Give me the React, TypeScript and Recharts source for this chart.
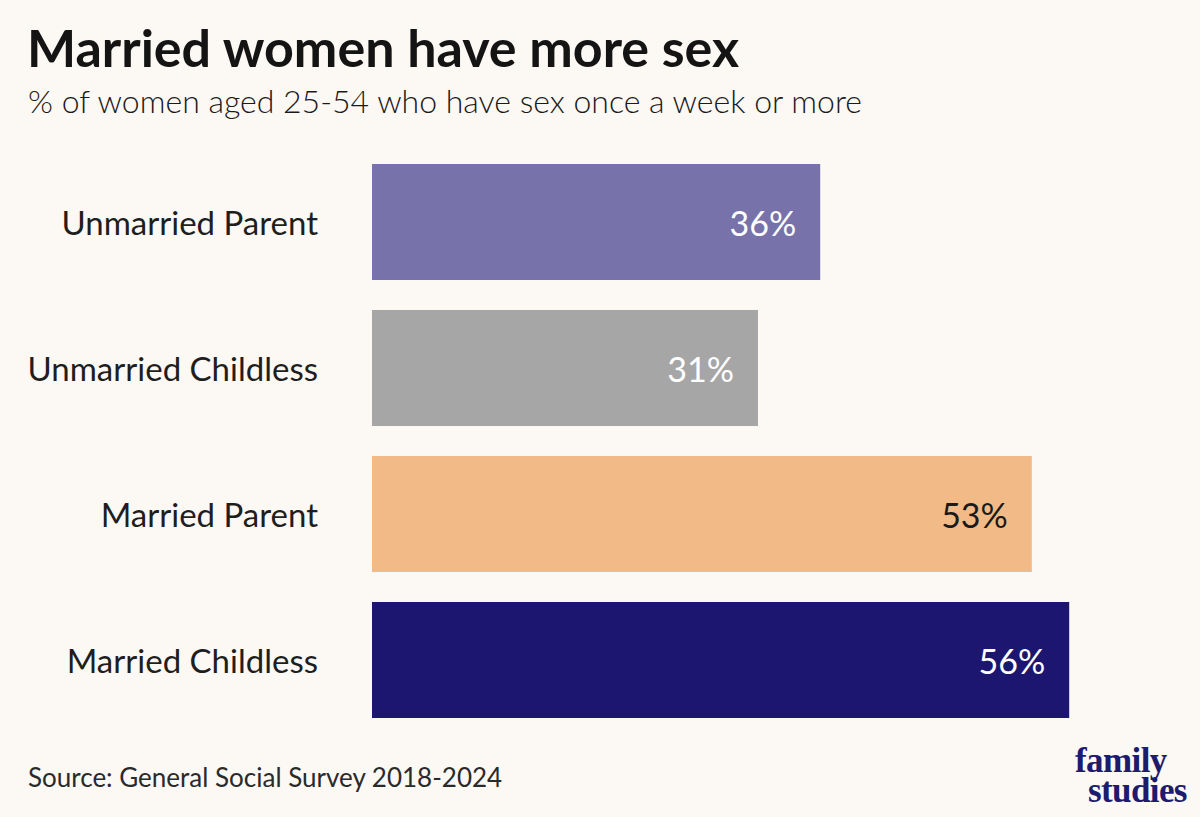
import * as React from 'react';
import { BarChart, Bar, XAxis, YAxis, Cell, LabelList } from 'recharts';

const categories = ['Unmarried Parent', 'Unmarried Childless', 'Married Parent', 'Married Childless'];
const shares = [36, 31, 53, 56];
const barColors = ['#7773AA', '#A6A6A6', '#F2BA86', '#1D1671'];
const labelColors = ['#FFFFFF', '#FFFFFF', '#1A1A1A', '#FFFFFF'];

const BG = '#FCF8F4';
const FONT = 'Lato, "Open Sans", sans-serif';

const data = categories.map((name, i) => ({ name, value: shares[i] }));

const CategoryTick = (props: any) => {
  const { x, y, payload } = props;
  return (
    <text x={x - 46} y={y} textAnchor="end" dominantBaseline="central"
      fontSize={33} fontFamily={FONT} fill="#1E1E1E">
      {payload.value}
    </text>
  );
};

const ValueLabel = (props: any) => {
  const { x, y, width, height, value, index } = props;
  return (
    <text x={x + width - 24} y={y + height / 2} textAnchor="end" dominantBaseline="central"
      fontSize={34} fontFamily={FONT} fill={labelColors[index]}>
      {value}%
    </text>
  );
};

export default function App() {
  return (
    <div style={{ position: 'relative', width: 1200, height: 817, background: BG, overflow: 'hidden', fontFamily: FONT }}>
      <style>{`body{margin:0}`}</style>
      <div style={{ position: 'absolute', left: 27, top: 16, fontSize: 52, fontWeight: 700, color: '#141414', lineHeight: '62px' }}>
        Married women have more sex
      </div>
      <div style={{ position: 'absolute', left: 28, top: 82, fontSize: 32, fontWeight: 300, color: '#1A1A1A', lineHeight: '38px' }}>
        % of women aged 25-54 who have sex once a week or more
      </div>

      <div style={{ position: 'absolute', left: 0, top: 0 }}>
        <BarChart width={1200} height={817} data={data} layout="vertical"
          margin={{ top: 149, right: 81, bottom: 84, left: 0 }} barSize={116}>
          <XAxis type="number" domain={[0, 60]} hide />
          <YAxis type="category" dataKey="name" width={372} axisLine={false} tickLine={false}
            tick={<CategoryTick />} interval={0} />
          <Bar dataKey="value" isAnimationActive={false}>
            {data.map((d, i) => (
              <Cell key={d.name} fill={barColors[i]} />
            ))}
            <LabelList dataKey="value" content={<ValueLabel />} />
          </Bar>
        </BarChart>
      </div>

      <div style={{ position: 'absolute', left: 28, top: 761, fontSize: 26, color: '#2A2A2A', lineHeight: '32px' }}>
        Source: General Social Survey 2018-2024
      </div>

      {/* family studies wordmark */}
      <svg style={{ position: 'absolute', left: 1060, top: 735 }} width={140} height={82}>
        <text fontFamily='"Liberation Serif", serif' fontWeight={700} fontSize={35} fill="#1E1A6E" letterSpacing={-0.6}>
          <tspan x={15} y={37}>family</tspan>
          <tspan x={28} y={67}>studies</tspan>
        </text>
      </svg>
    </div>
  );
}
